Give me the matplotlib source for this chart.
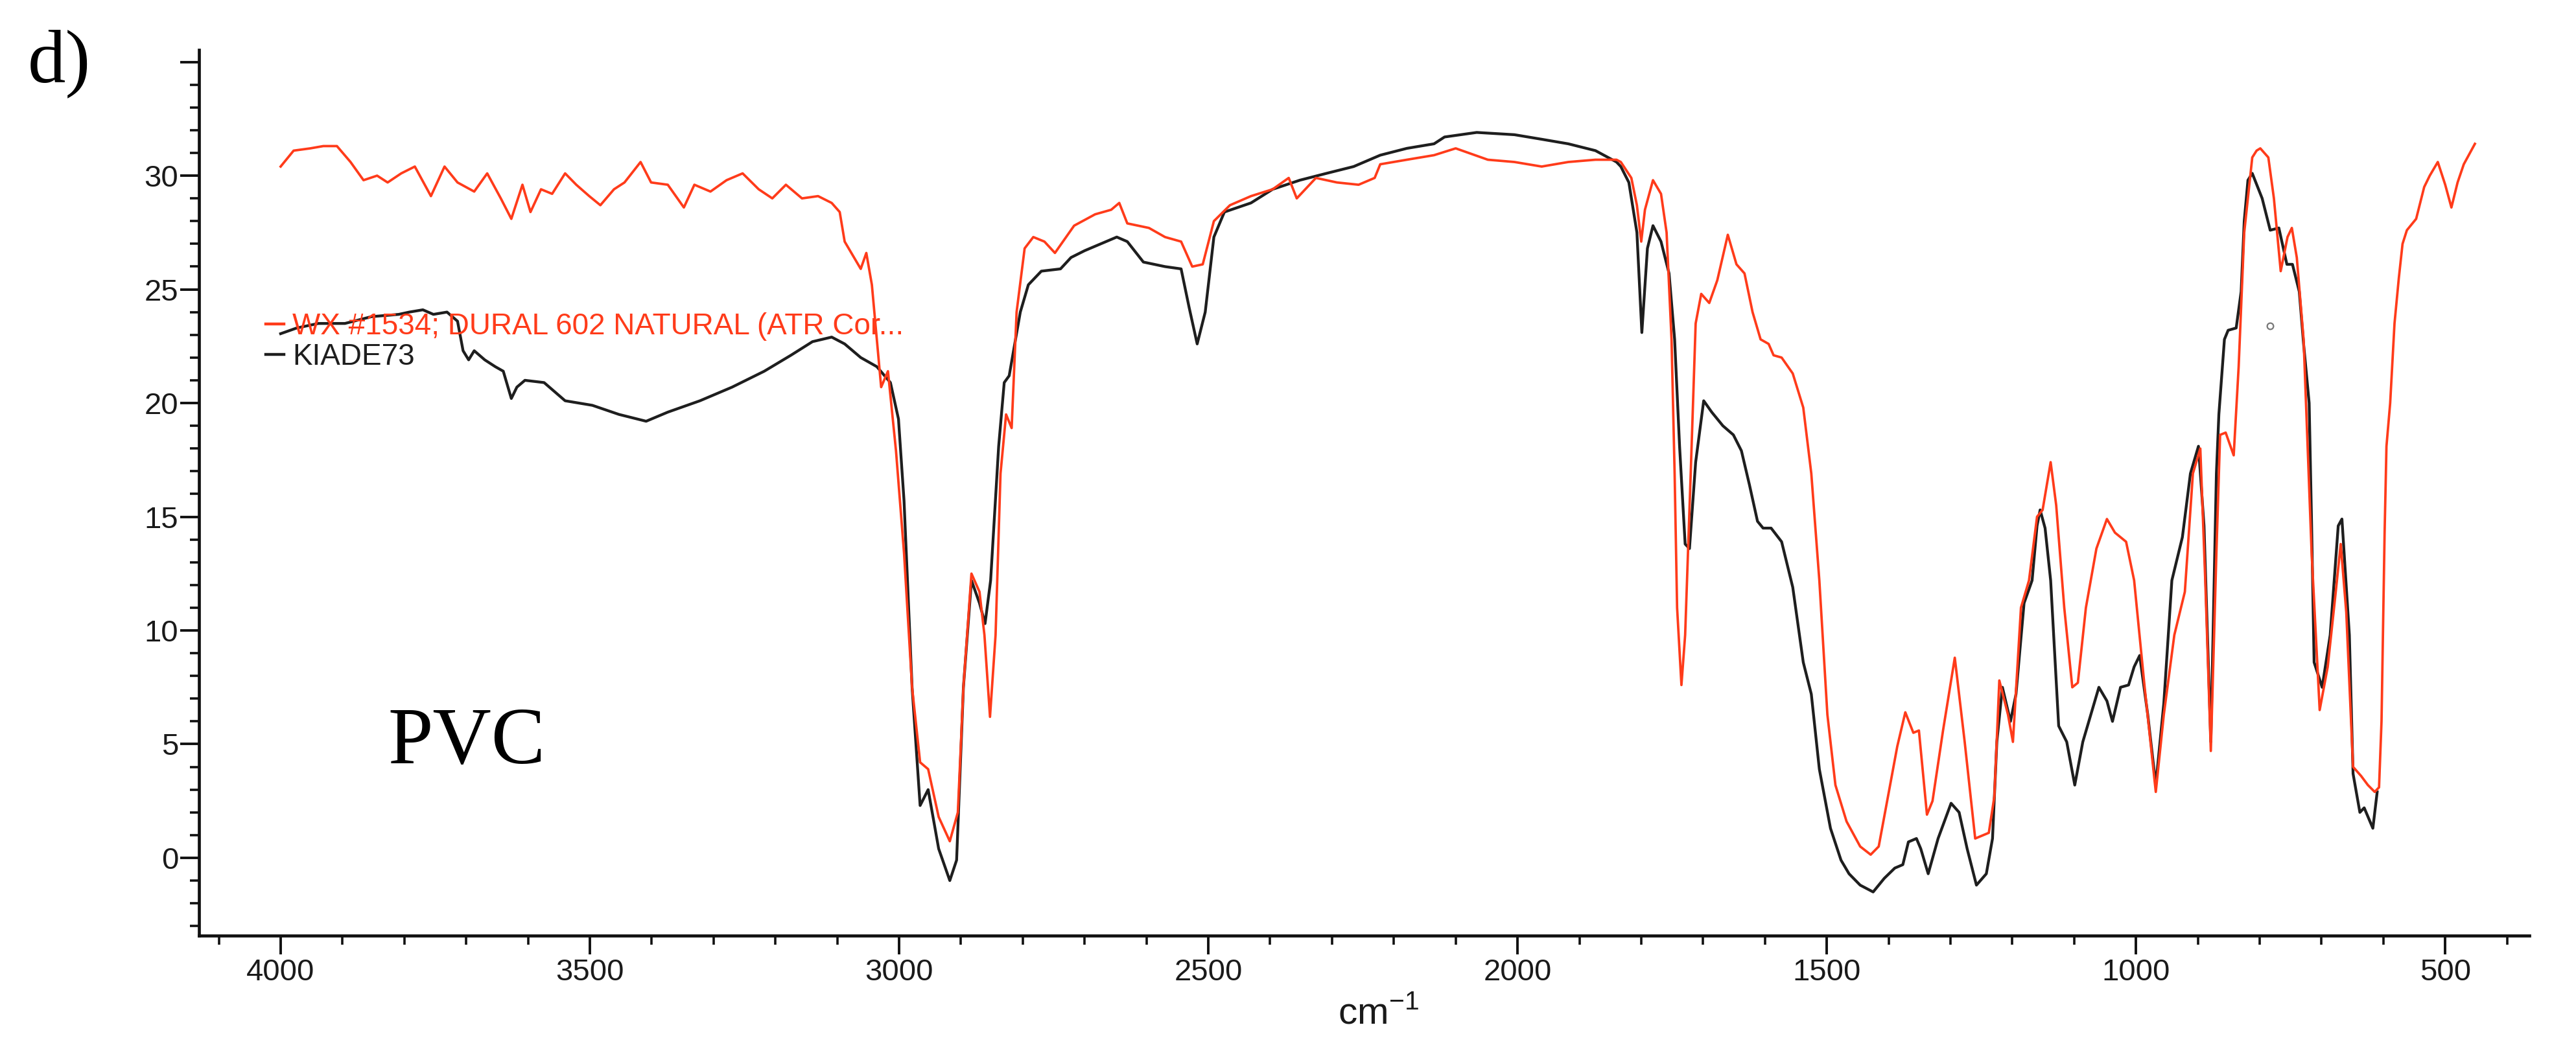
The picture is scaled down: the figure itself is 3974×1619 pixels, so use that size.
import matplotlib
matplotlib.use("Agg")
import matplotlib.pyplot as plt
from matplotlib.ticker import MultipleLocator, FixedLocator, FixedFormatter

# ---------------- data ----------------
red_wn = [4000, 3979, 3952, 3931, 3909, 3887, 3866, 3844, 3827, 3805, 3783, 3757, 3735, 3714,
          3687, 3666, 3644, 3627, 3609, 3596, 3579, 3561, 3540, 3522, 3501, 3483, 3461, 3444,
          3418, 3401, 3374, 3348, 3331, 3305, 3279, 3253, 3227, 3205, 3183, 3157, 3131, 3109,
          3096, 3088, 3075, 3062, 3053, 3044, 3036, 3029, 3018, 3005, 2992, 2979, 2966, 2953,
          2936, 2918, 2905, 2896, 2883, 2870, 2862, 2853, 2844, 2836, 2827, 2818, 2810, 2797,
          2783, 2765, 2748, 2717, 2683, 2657, 2644, 2631, 2596, 2570, 2544, 2526, 2509, 2491,
          2465, 2431, 2396, 2370, 2357, 2326, 2292, 2257, 2231, 2222, 2179, 2135, 2100, 2048,
          2005, 1961, 1918, 1874, 1840, 1833, 1816, 1807, 1800, 1794, 1781, 1768, 1759, 1751,
          1746, 1742, 1735, 1729, 1720, 1712, 1703, 1690, 1677, 1660, 1646, 1633, 1620, 1607,
          1594, 1586, 1573, 1555, 1538, 1525, 1512, 1499, 1486, 1468, 1446, 1429, 1416, 1399,
          1386, 1373, 1360, 1351, 1338, 1329, 1312, 1293, 1277, 1260, 1238, 1229, 1221, 1207,
          1199, 1186, 1173, 1160, 1151, 1138, 1129, 1116, 1103, 1094, 1081, 1064, 1047, 1034,
          1016, 1003, 986, 968, 955, 938, 921, 908, 896, 888, 879, 870, 864, 855, 842, 834,
          825, 812, 805, 799, 786, 777, 766, 755, 748, 740, 729, 716, 703, 690, 677, 669, 660,
          649, 636, 625, 614, 607, 603, 598, 595, 589, 582, 575, 569, 562, 547, 534, 525, 512,
          500, 490, 480, 470, 460, 452]
red_t = [30.4, 31.1, 31.2, 31.3, 31.3, 30.6, 29.8, 30.0, 29.7, 30.1, 30.4, 29.1, 30.4, 29.7,
         29.3, 30.1, 29.0, 28.1, 29.6, 28.4, 29.4, 29.2, 30.1, 29.6, 29.1, 28.7, 29.4, 29.7,
         30.6, 29.7, 29.6, 28.6, 29.6, 29.3, 29.8, 30.1, 29.4, 29.0, 29.6, 29.0, 29.1, 28.8,
         28.4, 27.1, 26.5, 25.9, 26.6, 25.2, 22.8, 20.7, 21.4, 17.9, 13.4, 7.5, 4.2, 3.9,
         1.8, 0.73, 2.0, 7.5, 12.5, 11.7, 9.8, 6.2, 9.8, 16.9, 19.5, 18.9, 24.0, 26.8,
         27.3, 27.1, 26.6, 27.8, 28.3, 28.5, 28.8, 27.9, 27.7, 27.3, 27.1, 26.0, 26.1, 28.0,
         28.7, 29.1, 29.4, 29.9, 29.0, 29.9, 29.7, 29.6, 29.9, 30.5, 30.7, 30.9, 31.2, 30.7,
         30.6, 30.4, 30.6, 30.7, 30.7, 30.6, 29.9, 28.7, 27.1, 28.5, 29.8, 29.2, 27.5, 22.8,
         16.9, 11.0, 7.6, 9.8, 16.9, 23.5, 24.8, 24.4, 25.4, 27.4, 26.1, 25.7, 24.0, 22.8,
         22.6, 22.1, 22.0, 21.3, 19.8, 16.9, 12.2, 6.3, 3.2, 1.6, 0.5, 0.14, 0.5, 3.0,
         4.9, 6.4, 5.5, 5.6, 1.9, 2.5, 5.6, 8.8, 5.1, 0.85, 1.1, 2.7, 7.8, 6.3,
         5.1, 11.0, 12.2, 15.0, 15.3, 17.4, 15.5, 11.0, 7.5, 7.7, 11.0, 13.6, 14.9, 14.3,
         13.9, 12.2, 7.5, 2.9, 6.3, 9.8, 11.7, 16.9, 18.0, 12.2, 4.7, 13.4, 18.6, 18.7, 17.7, 21.6,
         27.5, 30.8, 31.1, 31.2, 30.8, 29.0, 25.8, 27.3, 27.7, 26.4, 22.8, 13.4, 6.5, 8.4, 11.7, 13.8, 10.8,
         4.0, 3.6, 3.2, 2.9, 3.1, 6.0, 14.3, 18.1, 20.0, 23.5, 25.5, 27.0, 27.6, 28.1, 29.5, 30.0, 30.6,
         29.6, 28.6, 29.7, 30.5, 31.0, 31.4]

black_wn = [4000, 3974, 3939, 3896, 3853, 3809, 3792, 3770, 3753, 3731, 3714, 3705, 3696, 3687,
            3670, 3653, 3640, 3627, 3618, 3605, 3574, 3540, 3496, 3453, 3409, 3374, 3322, 3270,
            3218, 3175, 3140, 3109, 3088, 3062, 3036, 3014, 3001, 2992, 2979, 2966, 2953, 2936,
            2918, 2907, 2896, 2883, 2870, 2861, 2852, 2839, 2830, 2822, 2804, 2791, 2770, 2739,
            2722, 2700, 2648, 2631, 2605, 2570, 2544, 2531, 2518, 2505, 2491, 2474, 2431, 2396,
            2352, 2309, 2265, 2222, 2179, 2135, 2118, 2066, 2005, 1961, 1918, 1874, 1840, 1833,
            1820, 1807, 1799, 1790, 1781, 1768, 1755, 1746, 1738, 1729, 1722, 1712, 1699, 1686,
            1668, 1651, 1638, 1625, 1612, 1603, 1590, 1573, 1555, 1538, 1525, 1512, 1494, 1477,
            1464, 1446, 1425, 1407, 1390, 1377, 1368, 1355, 1348, 1336, 1320, 1299, 1286, 1273,
            1258, 1242, 1232, 1225, 1216, 1203, 1194, 1181, 1168, 1160, 1155, 1147, 1138, 1125,
            1112, 1099, 1086, 1073, 1060, 1047, 1038, 1025, 1012, 1003, 994, 981, 968, 955,
            942, 925, 912, 899, 890, 879, 870, 866, 857, 851, 838, 830, 825, 819, 812, 796,
            783, 769, 756, 747, 736, 729, 720, 716, 712, 699, 686, 673, 667, 655, 649, 638,
            631, 617, 610]
black_t = [23.05, 23.3, 23.5, 23.5, 23.8, 23.9, 24.0, 24.1, 23.9, 24.0, 23.6, 22.3, 21.9, 22.3,
           21.9, 21.6, 21.4, 20.2, 20.7, 21.0, 20.9, 20.1, 19.9, 19.5, 19.2, 19.6, 20.1, 20.7,
           21.4, 22.1, 22.7, 22.9, 22.6, 22.0, 21.6, 20.9, 19.3, 15.7, 7.5, 2.3, 3.0, 0.4,
           -1.0, -0.1, 7.5, 12.2, 11.2, 10.3, 12.2, 18.1, 20.9, 21.2, 24.0, 25.2, 25.8, 25.9,
           26.4, 26.7, 27.3, 27.1, 26.2, 26.0, 25.9, 24.2, 22.6, 24.0, 27.3, 28.4, 28.8, 29.4,
           29.8, 30.1, 30.4, 30.9, 31.2, 31.4, 31.7, 31.9, 31.8, 31.6, 31.4, 31.1, 30.6, 30.4,
           29.7, 27.5, 23.1, 26.8, 27.8, 27.1, 25.7, 22.8, 18.1, 13.8, 13.6, 17.4, 20.1, 19.6,
           19.0, 18.6, 17.9, 16.4, 14.8, 14.5, 14.5, 13.9, 11.9, 8.6, 7.2, 3.9, 1.3, -0.1,
           -0.7, -1.2, -1.5, -0.9, -0.45, -0.3, 0.7, 0.85, 0.4, -0.7, 0.85, 2.4, 2.0, 0.4,
           -1.2, -0.7, 0.85, 5.1, 7.5, 6.0, 7.2, 11.2, 12.2, 14.6, 15.3, 14.5, 12.2, 5.8,
           5.1, 3.2, 5.1, 6.3, 7.5, 6.9, 6.0, 7.5, 7.6, 8.4, 8.9, 6.3, 3.2, 6.8,
           12.2, 14.1, 16.9, 18.1, 14.6, 5.1, 16.9, 19.5, 22.8, 23.2, 23.3, 24.9, 28.0, 29.8, 30.1, 29.0,
           27.6, 27.7, 26.1, 26.1, 24.9, 22.6, 20.0, 14.6, 8.6, 7.5, 9.8, 14.6, 14.9, 9.8, 3.7, 2.0,
           2.2, 1.3, 2.9]

marker_wn = [783]
marker_t = [23.4]

series_labels = ["WX #1534; DURAL 602 NATURAL (ATR Cor...", "KIADE73"]
x_ticks = [4000, 3500, 3000, 2500, 2000, 1500, 1000, 500]
x_tick_labels = ["4000", "3500", "3000", "2500", "2000", "1500", "1000", "500"]
y_ticks = [0, 5, 10, 15, 20, 25, 30, 35]
y_tick_labels = ["0", "5", "10", "15", "20", "25", "30", ""]

# ---------------- figure ----------------
W, H, DPI = 3974, 1619, 100
fig = plt.figure(figsize=(W / DPI, H / DPI), dpi=DPI)
ax = fig.add_axes([307 / W, 1 - 1444 / H, (3902 - 307) / W, (1444 - 77) / H])

sans = ["Liberation Sans", "Arial", "DejaVu Sans"]
serif = ["Liberation Serif", "Times New Roman", "DejaVu Serif"]
plt.rcParams["mathtext.fontset"] = "custom"
plt.rcParams["mathtext.rm"] = "Liberation Sans"

red_c = "#ff3b1a"
blk_c = "#1e1e1e"

l_red, = ax.plot(red_wn, red_t, color=red_c, lw=2.7, zorder=3, solid_joinstyle="round")
l_blk, = ax.plot(black_wn, black_t, color=blk_c, lw=3.1, zorder=2, solid_joinstyle="round")
ax.plot(marker_wn, marker_t, marker="o", ms=7, mfc="none", mec="#777777", mew=1.6, ls="none")

ax.set_xlim(4132, 364)
ax.set_ylim(-3.42, 35.53)

for s in ["top", "right"]:
    ax.spines[s].set_visible(False)
for s in ["left", "bottom"]:
    ax.spines[s].set_linewidth(3.4)
    ax.spines[s].set_color("#111111")

ax.xaxis.set_major_locator(FixedLocator(x_ticks))
ax.xaxis.set_major_formatter(FixedFormatter(x_tick_labels))
ax.xaxis.set_minor_locator(MultipleLocator(100))
ax.yaxis.set_major_locator(FixedLocator(y_ticks))
ax.yaxis.set_major_formatter(FixedFormatter(y_tick_labels))
ax.yaxis.set_minor_locator(MultipleLocator(1))

ax.tick_params(axis="both", which="major", direction="out", length=21, width=2.8,
               color="#111111", labelsize=34, labelcolor="#1a1a1a")
ax.tick_params(axis="x", which="major", pad=4)
ax.tick_params(axis="y", which="major", pad=2)
ax.tick_params(axis="both", which="minor", direction="out", length=10, width=2.6, color="#111111")
for lab in ax.get_xticklabels() + ax.get_yticklabels():
    lab.set_family(sans)

leg = ax.legend([l_red, l_blk], series_labels, loc="upper left",
                bbox_to_anchor=(410 / W, 1 - 482 / H), bbox_transform=fig.transFigure,
                frameon=False, prop={"family": sans, "size": 33},
                handlelength=0.62, handletextpad=0.28, labelspacing=0.06,
                borderpad=0, borderaxespad=0, labelcolor="linecolor")
for h in leg.get_lines():
    h.set_linewidth(3.2)

fig.text(0.535, 0.024, "cm$^{\\mathregular{-1}}$", ha="center", va="baseline",
         fontsize=42, family=sans, color="#1a1a1a")
fig.text(598 / W, 1 - 1178 / H, "PVC", ha="left", va="baseline", fontsize=90,
         family=serif, color="black")
fig.text(43 / W, 1 - 126 / H, "d)", ha="left", va="baseline", fontsize=84,
         family=serif, color="black")

fig.savefig("out.png", dpi=DPI)
